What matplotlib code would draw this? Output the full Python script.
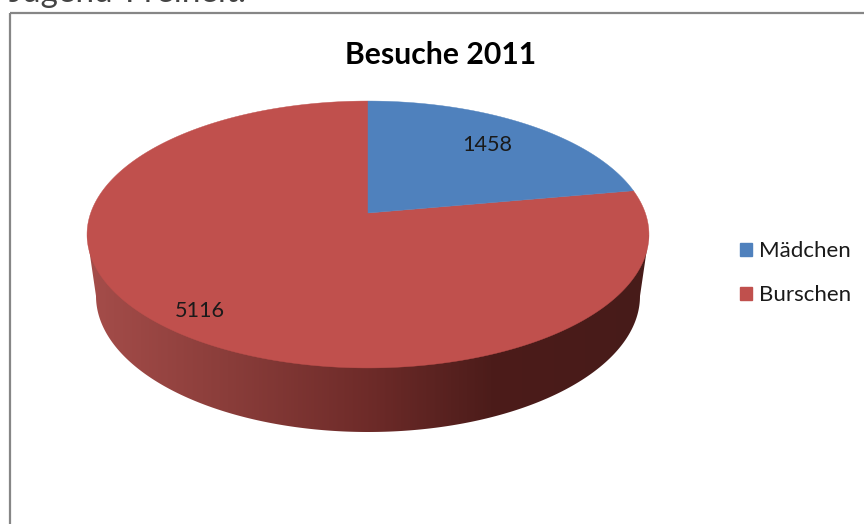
import numpy as np
import matplotlib as mpl
import matplotlib.pyplot as plt
from matplotlib.patches import Patch, Polygon, Rectangle
mpl.use('agg')

# Data
labels = ['Mädchen', 'Burschen']
values = np.array([1458, 5116])
colors = ['#4F81BD', '#C0504D']
title = 'Besuche 2011'
cut_text = 'Jugend-Freiheit:'

# side wall shade from left to right
wall_stops = [0.0, 0.25, 0.5, 0.72, 1.0]
wall_cols = ['#A54D4A', '#8A3D3A', '#6E2B29', '#4C1C1A', '#471B19']

plt.rcParams['font.family'] = ['Lato', 'DejaVu Sans']

fig = plt.figure(figsize=(8.64, 5.24), dpi=100)
ax = fig.add_axes([0, 0, 1, 1])
ax.set_xlim(0, 864)
ax.set_ylim(524, 0)
ax.axis('off')


# Disc seen in perspective, so the centre sits above the middle of the ellipse
def project(ang, r=1.0, cx=368, cy=213, a=277.3, b=95.7, k=0.161):
    x = r * np.sin(ang)
    y = r * np.cos(ang)
    d = 1 + k * y
    return cx + a * x / d, (cy - b * y) / d


t = np.linspace(0, 2 * np.pi, 721)
top_x, top_y = project(t)
top_left = np.argmin(top_x)
top_right = np.argmax(top_x)

# Bottom rim of the pie
low = np.linspace(-np.pi / 2, np.pi / 2, 361)
rim_x = 368 + 272 * np.sin(low)
rim_y = 296 + 136 * np.cos(low)

wall = np.vstack([
    [[top_x[top_left], top_y[top_left]]],
    np.column_stack([rim_x, rim_y]),
    [[top_x[top_right], top_y[top_right]]],
])
wall_patch = Polygon(wall, closed=True, fc='none', ec='none')
ax.add_patch(wall_patch)

cmap = mpl.colors.LinearSegmentedColormap.from_list('wall', list(zip(wall_stops, wall_cols)))
im = ax.imshow(np.linspace(0, 1, 400).reshape(1, -1), cmap=cmap, aspect='auto',
               extent=[87, 650, 440, 230], zorder=1)
im.set_clip_path(wall_patch)
ax.set_xlim(0, 864)
ax.set_ylim(524, 0)

# Top of the pie, clockwise from 12 o'clock
edges = np.concatenate([[0], np.cumsum(values)]) / values.sum() * 2 * np.pi
for i in range(len(values)):
    ang = np.linspace(edges[i], edges[i + 1], 400)
    px, py = project(ang)
    cx, cy = project(np.array([0.0]), r=0.0)
    ax.fill(np.r_[cx, px], np.r_[cy, py], color=colors[i], lw=0.3, zorder=2 + i * -0.1 + 0.5)

# Value labels
ax.text(487, 145, str(values[0]), fontsize=15.6, color='#1a1a1a', ha='center', va='center', zorder=5)
ax.text(200, 311, str(values[1]), fontsize=15.6, color='#1a1a1a', ha='center', va='center', zorder=5)

# Title
ax.text(440.5, 54.5, title, fontsize=21.7, fontweight='bold', color='black', ha='center', va='center', zorder=5)

# Chart frame, runs off the picture on the right and bottom
ax.add_patch(Rectangle((9.5, 12.5), 900, 600, fc='none', ec='#868686', lw=1.6, zorder=6))

# Text above the chart, cropped by the picture
ax.text(9, 2.5, cut_text, fontsize=24, color='#444444', ha='left', va='baseline', zorder=5)

handles = [Patch(color=c, label=l) for c, l in zip(colors, labels)]
ax.legend(handles=handles, loc='center left', bbox_to_anchor=(740 / 864, 1 - 273 / 524),
          frameon=False, fontsize=16, handlelength=0.54, handleheight=0.54,
          handletextpad=0.32, labelspacing=1.08, labelcolor='#1a1a1a',
          borderpad=0, borderaxespad=0)

fig.savefig('out.png', dpi=100)
